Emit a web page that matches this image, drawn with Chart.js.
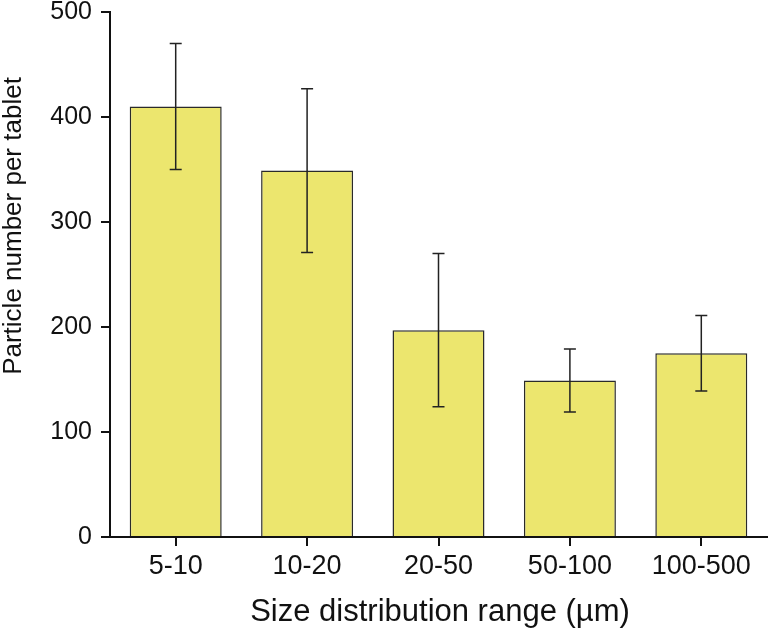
<!DOCTYPE html>
<html>
<head>
<meta charset="utf-8">
<script src="https://cdn.jsdelivr.net/npm/chart.js@4.4.1/dist/chart.umd.min.js"></script>
<style>
  html, body { margin: 0; padding: 0; background: #fff; }
  #wrap { width: 769px; height: 633px; }
</style>
</head>
<body>
<div id="wrap"><canvas id="particleChart"></canvas></div>
<script>
// Data
const categories = ['5-10', '10-20', '20-50', '50-100', '100-500'];
const means = [410, 349, 197, 149, 175];
const errLow = [350, 271, 124, 119, 139];
const errHigh = [470, 427, 270, 179, 211];
const yTicks = [0, 100, 200, 300, 400, 500];

const xTitle = 'Size distribution range (µm)';
const yTitle = 'Particle number per tablet';
const fontFamily = '"Liberation Sans", Arial, Helvetica, sans-serif';

// Error bars with caps, drawn from the y scale
const errorBars = {
    id: 'errorBars',
    afterDatasetsDraw(chart) {
        const ctx = chart.ctx;
        const meta = chart.getDatasetMeta(0);
        const y = chart.scales.y;
        ctx.save();
        ctx.strokeStyle = '#222';
        ctx.lineWidth = 1.5;
        meta.data.forEach(function(bar, i) {
            const top = y.getPixelForValue(errHigh[i]);
            const bot = y.getPixelForValue(errLow[i]);
            ctx.beginPath();
            ctx.moveTo(bar.x, top);
            ctx.lineTo(bar.x, bot);
            ctx.moveTo(bar.x - 6, top);
            ctx.lineTo(bar.x + 6, top);
            ctx.moveTo(bar.x - 6, bot);
            ctx.lineTo(bar.x + 6, bot);
            ctx.stroke();
        });
        ctx.restore();
    }
};

// Axis titles placed as in the reference
const axisTitles = {
    id: 'axisTitles',
    afterDraw(chart) {
        const ctx = chart.ctx;
        ctx.save();
        ctx.fillStyle = '#111';
        ctx.textAlign = 'center';
        ctx.textBaseline = 'middle';
        ctx.font = '31px ' + fontFamily;
        ctx.fillText(xTitle, 440, 612);
        ctx.translate(14, 226);
        ctx.rotate(-Math.PI / 2);
        ctx.font = '26px ' + fontFamily;
        ctx.fillText(yTitle, 0, 0);
        ctx.restore();
    }
};

document.addEventListener('DOMContentLoaded', function() {
    const ctx = document.getElementById('particleChart').getContext('2d');
    new Chart(ctx, {
        type: 'bar',
        data: {
            labels: categories,
            datasets: [{
                data: means,
                backgroundColor: '#ece66e',
                borderColor: '#2a2a2a',
                borderWidth: 1.5,
                barPercentage: 0.7,
                categoryPercentage: 1.0
            }]
        },
        options: {
            responsive: true,
            maintainAspectRatio: false,
            animation: false,
            layout: { padding: { top: 12, right: 2, left: 0, bottom: 0 } },
            plugins: {
                legend: { display: false },
                tooltip: { enabled: false }
            },
            scales: {
                x: {
                    offset: true,
                    grid: {
                        offset: false,
                        drawOnChartArea: false,
                        drawTicks: true,
                        tickLength: 9,
                        color: '#111',
                        lineWidth: 2
                    },
                    border: { display: true, color: '#111', width: 2 },
                    ticks: {
                        color: '#111',
                        padding: 4,
                        font: { family: fontFamily, size: 27 }
                    },
                    afterFit: function(scale) {
                        scale.height = 96;
                        scale.paddingLeft = 0;
                        scale.paddingRight = 0;
                    }
                },
                y: {
                    min: 0,
                    max: 500,
                    afterBuildTicks: function(scale) {
                        scale.ticks = yTicks.map(function(v) { return { value: v }; });
                    },
                    grid: {
                        drawOnChartArea: false,
                        drawTicks: true,
                        tickLength: 9,
                        color: '#111',
                        lineWidth: 2
                    },
                    border: { display: true, color: '#111', width: 2 },
                    ticks: {
                        color: '#111',
                        padding: 9,
                        font: { family: fontFamily, size: 25 }
                    },
                    afterFit: function(scale) {
                        scale.width = 110;
                        scale.paddingTop = 0;
                        scale.paddingBottom = 0;
                    }
                }
            }
        },
        plugins: [errorBars, axisTitles]
    });
});
</script>
</body>
</html>
